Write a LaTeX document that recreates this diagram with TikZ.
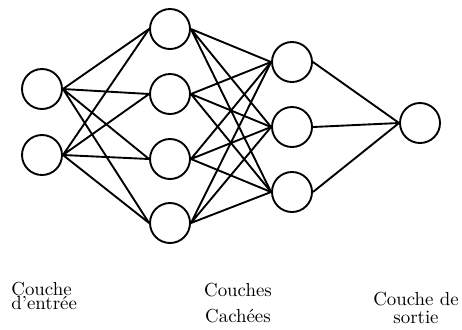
\documentclass[tikz,border=0pt]{standalone}
\usepackage{tikz}

\begin{document}
\begin{tikzpicture}[x=0.53pt, y=-0.53pt,
        neuron/.style={circle, draw, line width=1pt, minimum size=21.2pt, inner sep=0pt},
        link/.style={line width=1pt}]

        \useasboundingbox (0,0) rectangle (462,329);

        % ---------- Input layer ----------
        \node[neuron] (i1) at (42,89) {};
        \node[neuron] (i2) at (42,155) {};

        % ---------- First hidden layer ----------
        \node[neuron] (h1) at (170,29) {};
        \node[neuron] (h2) at (170,94) {};
        \node[neuron] (h3) at (170,159) {};
        \node[neuron] (h4) at (170,223) {};

        % ---------- Second hidden layer ----------
        \node[neuron] (g1) at (292,62) {};
        \node[neuron] (g2) at (292,127) {};
        \node[neuron] (g3) at (292,192) {};

        % ---------- Output layer ----------
        \node[neuron] (o1) at (420,123) {};

        % input -> first hidden
        \draw[link] (i1.east) -- (h1.west) (i1.east) -- (h2.west) (i1.east) -- (h3.west) (i1.east) -- (h4.west);
        \draw[link] (i2.east) -- (h1.west) (i2.east) -- (h2.west) (i2.east) -- (h3.west) (i2.east) -- (h4.west);

        % first hidden -> second hidden
        \draw[link] (h1.east) -- (g1.west) (h1.east) -- (g2.west) (h1.east) -- (g3.west);
        \draw[link] (h2.east) -- (g1.west) (h2.east) -- (g2.west) (h2.east) -- (g3.west);
        \draw[link] (h3.east) -- (g1.west) (h3.east) -- (g2.west) (h3.east) -- (g3.west);
        \draw[link] (h4.east) -- (g1.west) (h4.east) -- (g2.west) (h4.east) -- (g3.west);

        % second hidden -> output
        \draw[link] (g1.east) -- (o1.west) (g2.east) -- (o1.west) (g3.east) -- (o1.west);

        % ---------- Labels ----------
        \node[anchor=base west, align=left, inner sep=0pt] (inlabel) at (11,309) {Couche\\[-4.8pt]d'entr\'ee};
        \node[anchor=base, align=center, inner sep=0pt] (hidlabel) at (238,322) {Couches\\[1.3pt]Cach\'ees};
        \node[anchor=base, align=center, inner sep=0pt] (outlabel) at (416,323) {Couche de\\[-2.6pt]sortie};

\end{tikzpicture}
\end{document}
